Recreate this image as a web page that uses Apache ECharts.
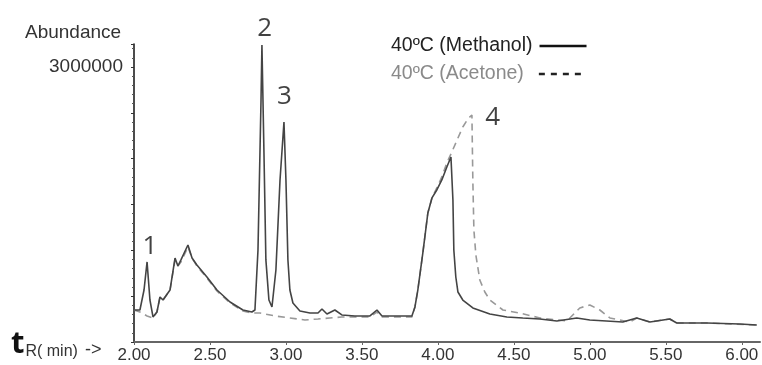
<!DOCTYPE html>
<html>
<head>
<meta charset="utf-8">
<script src="https://cdn.jsdelivr.net/npm/echarts@6/dist/echarts.min.js"></script>
<style>
  html, body { margin: 0; padding: 0; background: #fff; }
  #chart { width: 762px; height: 365px; }
</style>
</head>
<body>
<div id="chart"></div>
<script>
// retention time (min) and abundance
const methanolT = [2.000, 2.039, 2.066, 2.086, 2.105, 2.125, 2.151, 2.171, 2.191, 2.237, 2.270, 2.289, 2.309, 2.355, 2.382, 2.414, 2.480, 2.546, 2.632, 2.717, 2.776, 2.796, 2.816, 2.836, 2.842, 2.855, 2.868, 2.888, 2.908, 2.934, 2.961, 2.987, 3.000, 3.013, 3.026, 3.046, 3.092, 3.158, 3.211, 3.237, 3.270, 3.322, 3.368, 3.454, 3.553, 3.599, 3.632, 3.750, 3.829, 3.849, 3.868, 3.901, 3.934, 3.961, 3.993, 4.026, 4.059, 4.086, 4.099, 4.105, 4.118, 4.132, 4.164, 4.230, 4.342, 4.454, 4.559, 4.671, 4.783, 4.914, 5.000, 5.217, 5.309, 5.395, 5.526, 5.572, 5.770, 5.987, 6.099];
const methanolY = [349000, 349000, 567000, 873000, 458000, 273000, 327000, 491000, 458000, 567000, 916000, 829000, 895000, 1058000, 916000, 840000, 709000, 567000, 436000, 349000, 327000, 349000, 1004000, 2640000, 3240000, 2095000, 895000, 458000, 382000, 785000, 1767000, 2400000, 1767000, 895000, 567000, 425000, 338000, 316000, 316000, 360000, 305000, 349000, 295000, 284000, 284000, 349000, 284000, 284000, 284000, 382000, 567000, 971000, 1407000, 1571000, 1658000, 1767000, 1909000, 2018000, 1549000, 1004000, 709000, 545000, 458000, 371000, 305000, 273000, 262000, 251000, 229000, 262000, 240000, 218000, 262000, 218000, 251000, 207000, 207000, 196000, 185000];

const acetoneT = [2.000, 2.039, 2.086, 2.125, 2.151, 2.171, 2.191, 2.237, 2.270, 2.289, 2.309, 2.355, 2.382, 2.414, 2.480, 2.546, 2.632, 2.717, 2.776, 2.829, 2.928, 3.026, 3.125, 3.211, 3.289, 3.368, 3.454, 3.553, 3.599, 3.632, 3.829, 3.849, 3.868, 3.901, 3.934, 3.961, 3.993, 4.026, 4.059, 4.092, 4.132, 4.164, 4.197, 4.224, 4.230, 4.237, 4.250, 4.276, 4.309, 4.342, 4.428, 4.539, 4.671, 4.849, 4.934, 5.000, 5.066, 5.132, 5.263, 5.309, 5.395, 5.526, 5.572, 5.770, 6.099];
const acetoneY = [349000, 327000, 284000, 262000, 327000, 491000, 458000, 567000, 895000, 829000, 873000, 1036000, 916000, 829000, 698000, 556000, 425000, 338000, 316000, 316000, 284000, 262000, 240000, 251000, 262000, 273000, 273000, 273000, 327000, 273000, 273000, 382000, 567000, 971000, 1407000, 1571000, 1680000, 1800000, 1953000, 2073000, 2225000, 2345000, 2433000, 2476000, 1767000, 1222000, 949000, 676000, 545000, 458000, 349000, 316000, 262000, 229000, 371000, 404000, 349000, 262000, 218000, 262000, 218000, 251000, 207000, 207000, 185000];

const xTicks = [2, 2.5, 3, 3.5, 4, 4.5, 5, 5.5, 6];
const yLabelValue = 3000000;

// peak numbers: [t, abundance, label]
const peakLabels = [[2.105, 1036000, '1'], [2.86, 3420000, '2'], [2.99, 2680000, '3'], [4.36, 2450000, '4']];

const chart = echarts.init(document.getElementById('chart'));

const zip = (t, y) => t.map((v, i) => [v, y[i]]);

const legendBase = {
  left: 386,
  align: 'right',
  itemGap: 5,
  itemWidth: 47,
  itemHeight: 16,
  itemStyle: { opacity: 0 }
};

const option = {
  animation: false,
  textStyle: { fontFamily: 'Liberation Sans, Arial, sans-serif' },
  grid: { left: 134, right: 2, top: 44, bottom: 23 },
  legend: [
    Object.assign({}, legendBase, {
      top: 31,
      textStyle: { fontSize: 19.5, color: '#222', padding: [0, 2, 0, 0] },
      data: [{ name: '40ºC (Methanol)', itemStyle: { opacity: 0 }, lineStyle: { width: 2.5, color: '#111' } }]
    }),
    Object.assign({}, legendBase, {
      top: 59,
      textStyle: { fontSize: 19.5, color: '#8a8a8a', padding: [0, 10, 0, 0] },
      data: [{ name: '40ºC (Acetone)', itemStyle: { opacity: 0 }, lineStyle: { width: 2.5, color: '#222', type: [6, 6] } }]
    })
  ],
  xAxis: {
    type: 'value',
    min: 2,
    max: 6.12,
    interval: 0.5,
    splitLine: { show: false },
    axisLine: { onZero: false, lineStyle: { color: '#666', width: 2 } },
    axisTick: { show: true, length: 3, lineStyle: { color: '#666' }, customValues: xTicks },
    axisLabel: {
      customValues: xTicks,
      fontSize: 17,
      color: '#333',
      margin: 5,
      formatter: v => v.toFixed(2)
    }
  },
  yAxis: {
    type: 'value',
    min: 0,
    max: 3250000,
    interval: 500000,
    splitLine: { show: false },
    axisLine: { show: true, lineStyle: { color: '#111', width: 1.5 } },
    axisTick: { show: true, length: 3, lineStyle: { color: '#333' } },
    minorTick: { show: true, splitNumber: 5, length: 2, lineStyle: { color: '#555' } },
    axisLabel: {
      customValues: [yLabelValue],
      fontSize: 19,
      color: '#333',
      margin: 11,
      formatter: v => String(v)
    }
  },
  graphic: [
    {
      type: 'text',
      left: 25,
      top: 23,
      style: { text: 'Abundance', fontSize: 19, fill: '#333', fontFamily: 'Liberation Sans, Arial, sans-serif' }
    },
    {
      type: 'text',
      left: 11,
      top: 329,
      style: {
        text: '{t|t}{s|R( min)}{a|->}',
        rich: {
          t: { fontSize: 31, fontWeight: 'bold', fill: '#111', fontFamily: 'Open Sans, sans-serif', verticalAlign: 'top' },
          s: { fontSize: 16, fill: '#333', fontFamily: 'Liberation Sans, Arial, sans-serif', padding: [14, 0, 0, 1] },
          a: { fontSize: 18, fill: '#333', fontFamily: 'Liberation Sans, Arial, sans-serif', padding: [11, 0, 0, 7] }
        }
      }
    }
  ],
  series: [
    {
      name: '40ºC (Acetone)',
      type: 'line',
      data: zip(acetoneT, acetoneY),
      symbol: 'none',
      lineStyle: { color: '#999', width: 1.6, type: [7, 5] },
      itemStyle: { color: '#999' },
      z: 2
    },
    {
      name: '40ºC (Methanol)',
      type: 'line',
      data: zip(methanolT, methanolY),
      symbol: 'none',
      lineStyle: { color: '#444', width: 1.6 },
      itemStyle: { color: '#444' },
      z: 3
    },
    {
      name: 'peaks',
      type: 'scatter',
      data: peakLabels.map(p => [p[0], p[1], p[2]]),
      symbolSize: 0,
      silent: true,
      clip: false,
      label: {
        show: true,
        position: 'inside',
        formatter: p => p.value[2],
        fontSize: 26,
        color: '#111',
        fontFamily: 'Open Sans, sans-serif'
      },
      z: 4
    }
  ]
};

chart.setOption(option);
</script>
</body>
</html>
